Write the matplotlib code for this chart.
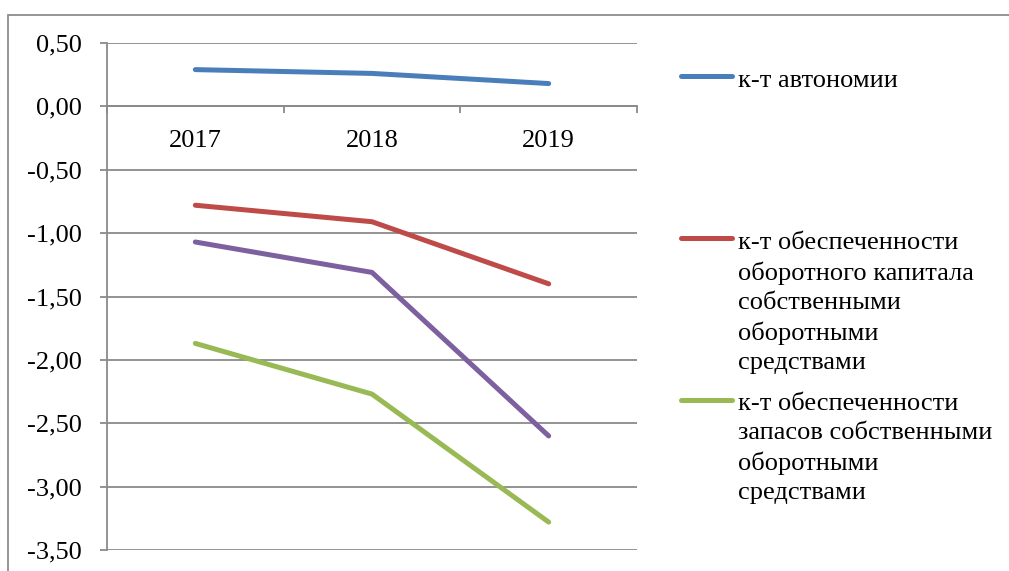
import matplotlib
matplotlib.use("Agg")
import matplotlib.pyplot as plt
from matplotlib.lines import Line2D
from matplotlib.patches import Rectangle
from matplotlib.ticker import FixedLocator, FuncFormatter

plt.rcParams['font.family'] = ['Liberation Serif', 'DejaVu Serif']

years = ["2017", "2018", "2019"]
autonomy = [0.29, 0.26, 0.18]
working_capital = [-0.78, -0.91, -1.40]
fourth_ratio = [-1.07, -1.31, -2.60]
stocks = [-1.87, -2.27, -3.28]

labels = [
    "к-т автономии",
    "к-т обеспеченности\nоборотного капитала\nсобственными\nоборотными\nсредствами",
    "к-т обеспеченности\nзапасов собственными\nоборотными\nсредствами",
]
colors = ["#4A7EBB", "#BE4B48", "#7D60A0", "#98B954"]

W, H = 1009, 571
fig = plt.figure(figsize=(W / 100, H / 100), dpi=100)

def fx(px):
    return px / W

def fy(py):
    return 1 - py / H

ax = fig.add_axes([fx(107), fy(550), fx(637) - fx(107), fy(43) - fy(550)])

grid_color = "#8a8a8a"
x = list(range(len(years)))
series = [autonomy, working_capital, fourth_ratio, stocks]
for vals, col in zip(series, colors):
    ax.plot(x, vals, color=col, lw=3.6, solid_capstyle="round",
            solid_joinstyle="round", zorder=3)

ax.set_xlim(-0.5, len(years) - 0.5)
ax.set_ylim(-3.5, 0.5)
ax.set_yticks([-3.5 + 0.5 * i for i in range(9)])
ax.yaxis.set_major_formatter(FuncFormatter(lambda v, p: f"{v:.2f}".replace(".", ",")))
ax.grid(axis="y", color=grid_color, lw=1.3, zorder=1)
ax.set_axisbelow(True)

for s in ["top", "right"]:
    ax.spines[s].set_visible(False)
ax.spines["left"].set_color(grid_color)
ax.spines["left"].set_linewidth(1.3)
ax.spines["bottom"].set_position(("data", 0))
ax.spines["bottom"].set_color(grid_color)
ax.spines["bottom"].set_linewidth(1.3)

ax.set_xticks(x)
ax.set_xticklabels(years)
ax.xaxis.set_minor_locator(FixedLocator([i - 0.5 for i in range(len(years) + 1)]))
ax.tick_params(axis="x", which="major", length=0, pad=17, labelsize=19)
ax.tick_params(axis="x", which="minor", length=5, width=1.3, color=grid_color,
               direction="out")
ax.tick_params(axis="y", length=5, width=1.3, color=grid_color, pad=13,
               labelsize=19)

# outer chart frame (clipped at the right and bottom)
fig.add_artist(Rectangle((fx(8), fy(H + 20)), fx(W + 40) - fx(8), fy(15) - fy(H + 20),
                         transform=fig.transFigure, fill=False,
                         edgecolor="#8c8c8c", lw=1.3))

# legend keys and labels
key_rows = [(76, 80), (238, 242), (400, 403)]
legend_colors = [colors[0], colors[1], colors[3]]
for (ky, ty), col, lab in zip(key_rows, legend_colors, labels):
    fig.add_artist(Line2D([fx(681), fx(732)], [fy(ky), fy(ky)], color=col, lw=3.6,
                          solid_capstyle="round", transform=fig.transFigure))
    fig.text(fx(738), fy(ty - 10), lab, fontsize=19, va="top", ha="left",
             linespacing=1.41)

fig.savefig("out.png", dpi=100)
